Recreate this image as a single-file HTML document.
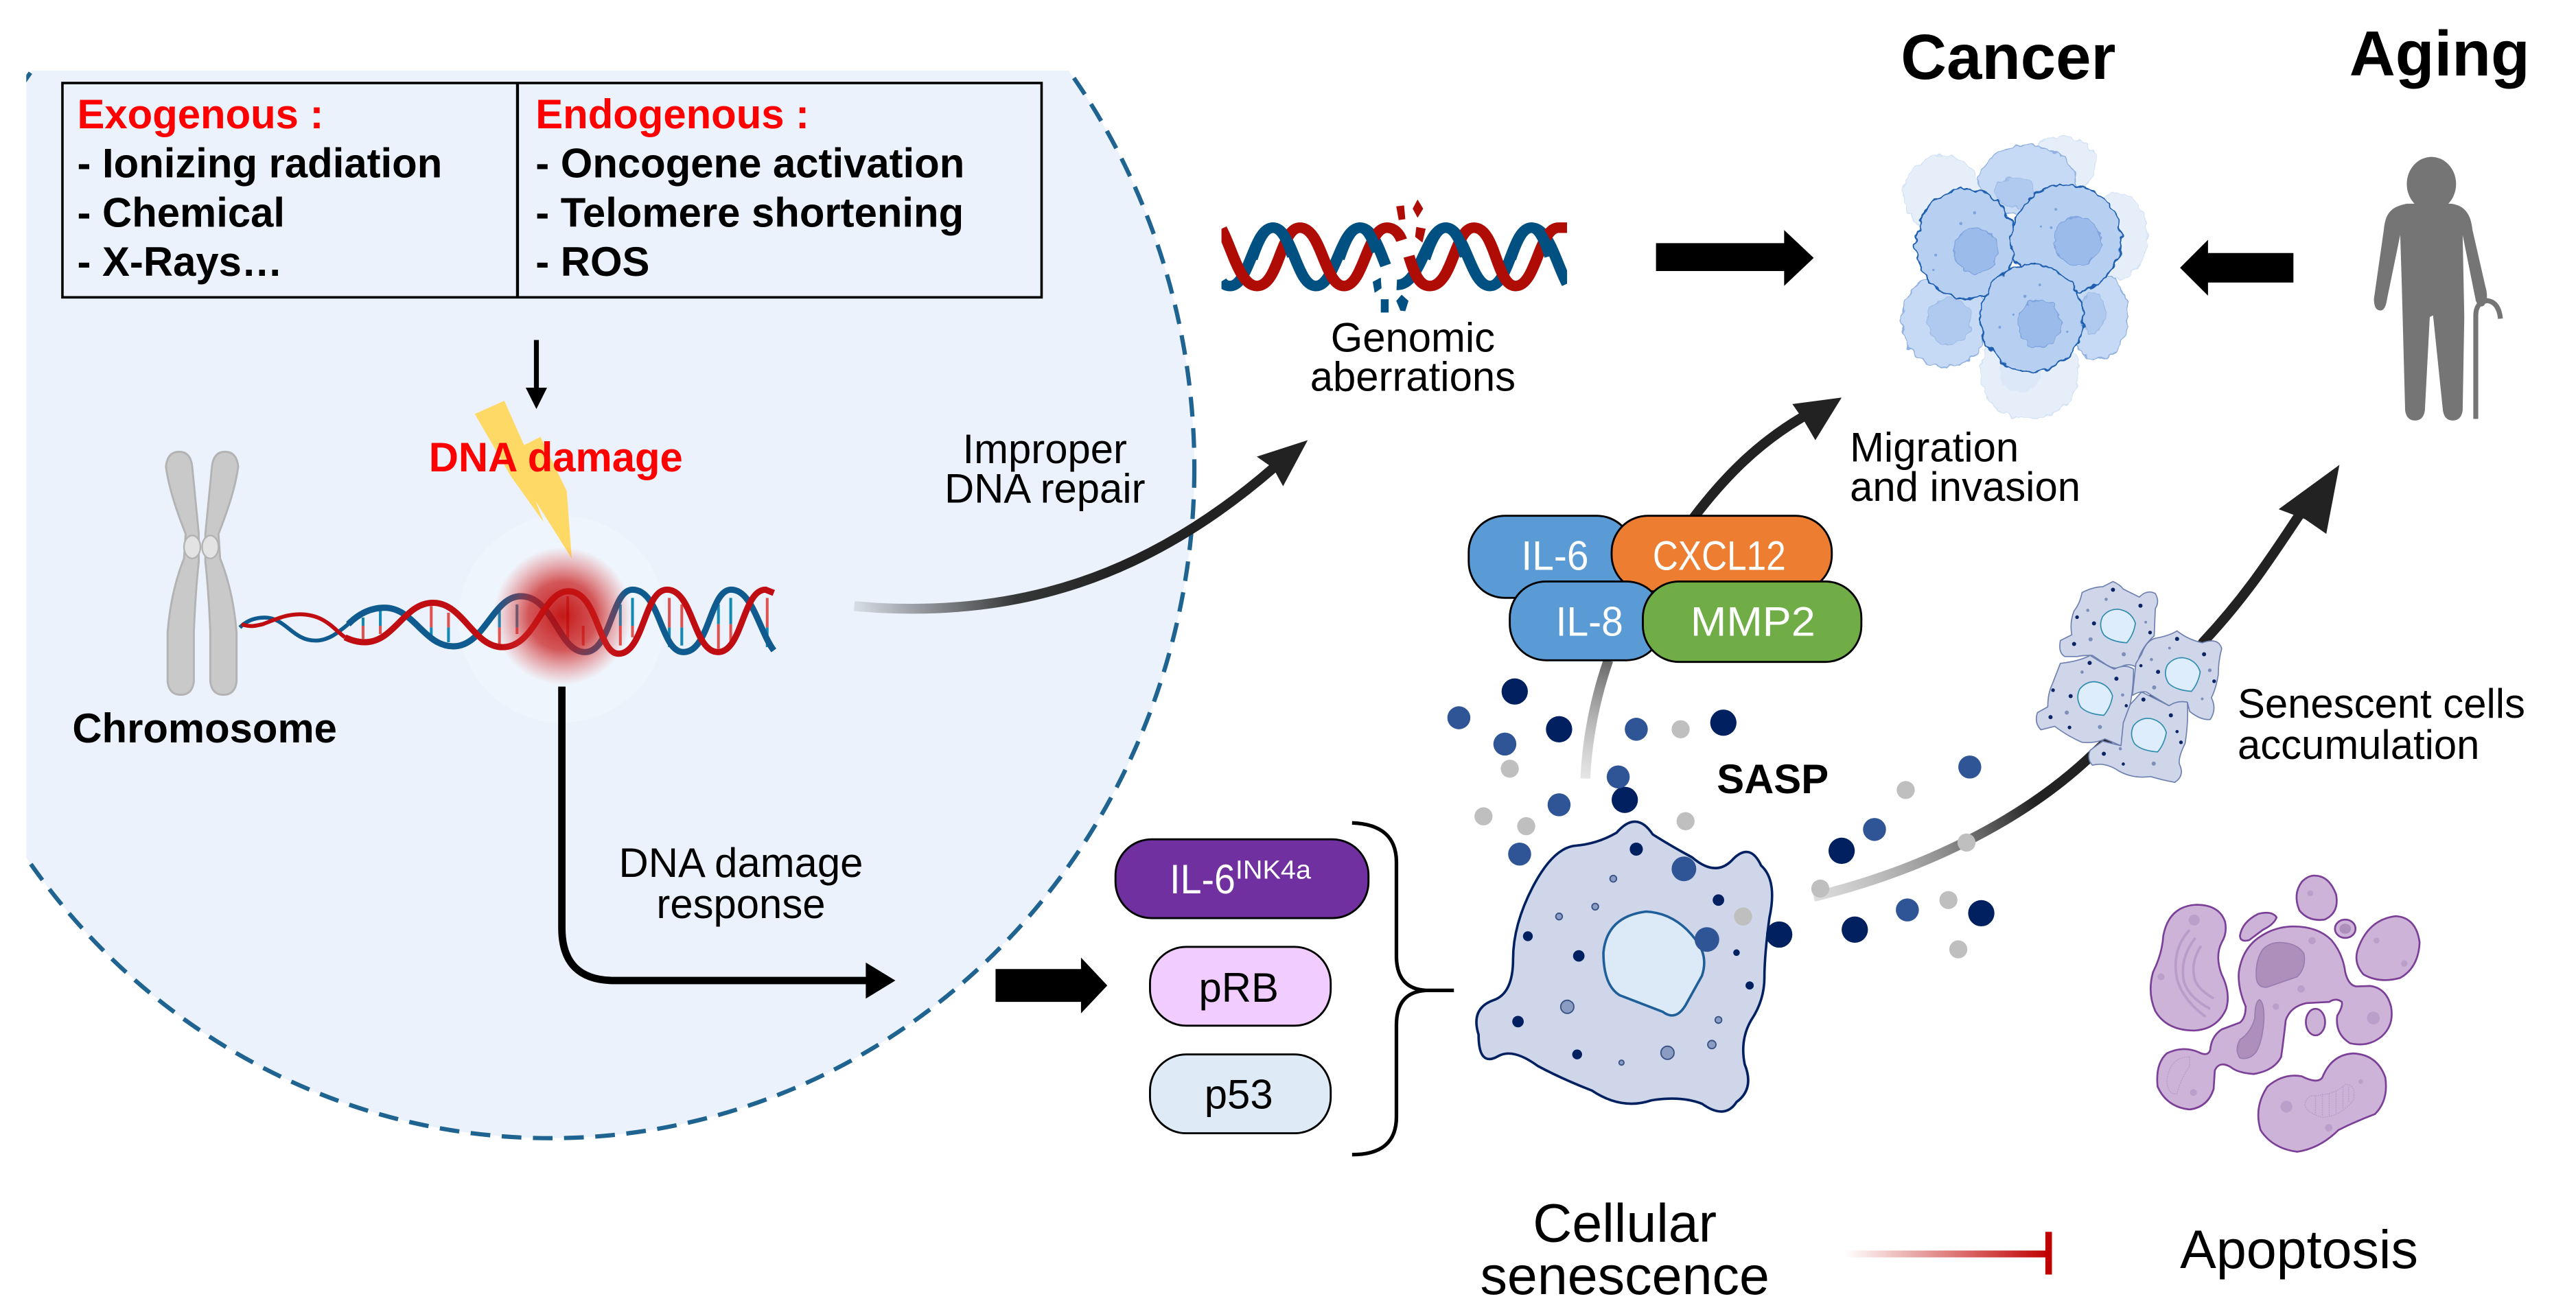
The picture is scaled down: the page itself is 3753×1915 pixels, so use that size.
<!DOCTYPE html>
<html><head><meta charset="utf-8"><style>
html,body{margin:0;padding:0;background:#fff;width:3753px;height:1915px;overflow:hidden}
svg{display:block;position:absolute;left:0;top:0}
text{font-family:"Liberation Sans",Arial,sans-serif;font-size:25px;fill:#000}
.b{font-weight:bold}.r{fill:#f00}.c{text-anchor:middle}
</style></head><body>
<svg width="3753" height="1915" viewBox="0 0 1568 800" xmlns="http://www.w3.org/2000/svg">
<defs>
<clipPath id="pc"><rect x="16" y="43" width="800" height="700"/></clipPath>
<clipPath id="gd"><rect x="55" y="0" width="1410" height="600"/></clipPath>
<linearGradient id="g1" gradientUnits="userSpaceOnUse" x1="520" y1="369" x2="680" y2="340"><stop offset="0" stop-color="#222" stop-opacity=".1"/><stop offset=".6" stop-color="#222" stop-opacity=".9"/><stop offset="1" stop-color="#222"/></linearGradient>
<linearGradient id="g2" gradientUnits="userSpaceOnUse" x1="1104" y1="546" x2="1240" y2="490"><stop offset="0" stop-color="#bbb" stop-opacity=".5"/><stop offset=".6" stop-color="#888"/><stop offset="1" stop-color="#222"/></linearGradient>
<linearGradient id="g3" gradientUnits="userSpaceOnUse" x1="965" y1="474" x2="979" y2="402"><stop offset="0" stop-color="#ccc" stop-opacity=".5"/><stop offset="1" stop-color="#666"/></linearGradient>
<linearGradient id="g4" gradientUnits="userSpaceOnUse" x1="1123" y1="0" x2="1247" y2="0"><stop offset="0" stop-color="#c00000" stop-opacity="0"/><stop offset="1" stop-color="#c00000"/></linearGradient>
<radialGradient id="gl"><stop offset="0" stop-color="#c00000" stop-opacity=".9"/><stop offset=".5" stop-color="#c81a1a" stop-opacity=".72"/><stop offset="1" stop-color="#e04040" stop-opacity="0"/></radialGradient>
<filter id="jag" x="-10%" y="-10%" width="120%" height="120%" color-interpolation-filters="sRGB"><feTurbulence type="fractalNoise" baseFrequency=".025" numOctaves="2" seed="7"/><feDisplacementMap in="SourceGraphic" scale="36" xChannelSelector="R" yChannelSelector="G"/></filter>
</defs>

<!-- panel -->
<ellipse cx="335" cy="285" rx="392" ry="408" fill="#ebf2fb" clip-path="url(#pc)"/>
<ellipse cx="335" cy="285" rx="392" ry="408" fill="none" stroke="#1f6391" stroke-width="2.600" stroke-dasharray="12 7" clip-path="url(#pc)"/>

<!-- table -->
<rect x="38" y="50.500" width="596" height="130.500" fill="none" stroke="#000" stroke-width="1.500"/>
<line x1="315" y1="50" x2="315" y2="181" stroke="#000" stroke-width="1.800"/>
<text class="b r" x="47" y="78">Exogenous :</text>
<text class="b" x="47" y="108">- Ionizing radiation</text>
<text class="b" x="47" y="138">- Chemical</text>
<text class="b" x="47" y="168">- X-Rays…</text>
<text class="b r" x="326" y="78">Endogenous :</text>
<text class="b" x="326" y="108">- Oncogene activation</text>
<text class="b" x="326" y="138">- Telomere shortening</text>
<text class="b" x="326" y="168">- ROS</text>

<!-- small arrow -->
<line x1="326.500" y1="207" x2="326.500" y2="236" stroke="#000" stroke-width="3"/>
<polygon points="320,236 333,236 326.500,249" fill="#000"/>

<!-- chromosome -->
<g fill="#c9c9c9" stroke="#b3b3b3" stroke-width="1.200">
<path d="M101 284Q102 275 109 275Q116 275 117 284L121 325L121 342Q119 360 118 385L118 415Q117 423 110 423Q103 423 102 415L102 385Q104 360 112 340L113 325Q103 300 101 284Z"/>
<path d="M145 284Q144 275 137 275Q130 275 129 284L125 325L125 342Q127 360 128 385L128 415Q129 423 136 423Q143 423 144 415L144 385Q142 360 134 340L133 325Q143 300 145 284Z"/>
</g>
<ellipse cx="117" cy="333" rx="5" ry="7" fill="#e3e3e3" stroke="#b3b3b3"/>
<ellipse cx="128" cy="333" rx="5" ry="7" fill="#e3e3e3" stroke="#b3b3b3"/>

<!-- halo -->
<circle cx="342" cy="377" r="63" fill="#fff" fill-opacity=".22"/>

<!-- bolt -->
<polygon points="289,252 307,244 319,271 329,266 345,299 348,340 326,305 331,318 311,290" fill="#ffd966"/>

<!-- helix rungs -->
<g stroke-width="1.700">
<g stroke="#1288b5"><path d="M221 376V381M231.500 372V381M262.500 382V387M273 382V391M304 371V382M314.700 368V382M377.600 368V381M385 364V381M415 382V393M407.400 382V394M437.300 368V380M444.800 364V380M467 382V394"/></g>
<g stroke="#e0524f"><path d="M221 381V389M231.500 381V386M262.500 369V382M273 373V382M304 382V392M314.700 382V386M345.600 363V392M355 381V393M377.600 381V393M385 381V388M407.400 364V382M415 368V382M437.300 380V395M444.800 380V392M467 364V382"/></g>
</g>
<!-- helix strands -->
<g fill="none" stroke="#0f5a8e">
<path stroke-width="2.400" d="M146 382C150 378 155 376 161 376C174 376 178 390 192 390C200 390 206 385 212 380"/>
<path stroke-width="3.800" d="M212 380C218 374 225 370 234 370C252 370 258 393.500 276 393.500C295 393.500 300 363 317 363C337 363 340 397 356 397C372 397 372 359 385 359C402 359 402 397 416 397C432 397 432 359 445 359C458 359 462 384 471 396"/>
</g>
<g fill="none" stroke="#c00d12">
<path stroke-width="2.400" d="M147 380C152 382 156 381 160 380C168 377 174 374 182.500 374C198 374 204 384 210 388"/>
<path stroke-width="3.800" d="M210 388C214 390 218 391 222 391C240 391 246 367 263.500 367C282 367 288 394 306 394C326 394 330 360 346 360C364 360 364 398 376.500 398C392 398 392 359 406 359C422 359 422 397 437 397C452 397 452 359 466 359L471 361"/>
</g>

<!-- glow -->
<ellipse cx="342.500" cy="375" rx="42" ry="42" fill="url(#gl)"/>

<text class="b r" x="261" y="287">DNA damage</text>
<text class="b" x="44" y="452">Chromosome</text>
<text class="c" x="636" y="282">Improper</text>
<text class="c" x="636" y="306">DNA repair</text>

<!-- arrow improper -->
<path d="M520 369C620 378 700 350 775 285" fill="none" stroke="url(#g1)" stroke-width="6"/>
<polygon points="796,268 765,278 775,285 781,296" fill="#222"/>

<!-- ddr arrow -->
<path d="M342 418V565Q342 597 374 597H530" fill="none" stroke="#000" stroke-width="4.500"/>
<polygon points="527,586 545,597 527,608" fill="#000"/>
<text class="c" x="451" y="534">DNA damage</text>
<text class="c" x="451" y="559">response</text>

<!-- block arrow -->
<polygon points="606,590 658,590 658,583 674,600 658,617 658,610 606,610" fill="#000"/>

<!-- pills -->
<rect x="679" y="511" width="154" height="48" rx="22" fill="#7030a0" stroke="#000" stroke-width="1.200"/>
<text x="712" y="544" style="fill:#fff;font-size:25px" textLength="40" lengthAdjust="spacingAndGlyphs">IL-6</text>
<text x="752" y="535" style="fill:#fff;font-size:16px" textLength="46" lengthAdjust="spacingAndGlyphs">INK4a</text>
<rect x="700" y="576.500" width="110" height="48" rx="22" fill="#f0ccff" stroke="#000" stroke-width="1.200"/>
<text class="c" x="754" y="610">pRB</text>
<rect x="700" y="642" width="110" height="48" rx="22" fill="#deeaf6" stroke="#000" stroke-width="1.200"/>
<text class="c" x="754" y="675">p53</text>

<!-- brace -->
<path d="M823 501Q850 502 850 525V582Q850 602 868 603H885M868 603Q850 604 850 624V680Q850 703 823 703" fill="none" stroke="#000" stroke-width="2.200"/>

<!-- genomic dna -->
<g transform="translate(735.300 112.800) scale(.1492 .1393)" fill="none" stroke-width="46">
<g clip-path="url(#gd)">
<g stroke="#005082">
<path d="M55 420C65 435 75 440 90 440C170 440 185 185 265 185C345 185 360 440 440 440C520 440 540 185 620 185C670 185 695 270 725 350"/>
<path d="M770 435C870 440 890 185 970 185C1050 185 1070 440 1150 440C1230 440 1240 185 1320 185C1390 185 1420 340 1465 430"/>
</g>
<g stroke="#b00c06">
<path d="M55 190C100 280 130 440 200 440C290 440 295 185 375 185C465 185 475 440 555 440C635 440 650 185 730 185C760 185 780 210 790 240"/>
<path d="M820 310C840 380 860 440 905 440C1000 440 1005 185 1085 185C1175 185 1175 440 1255 440C1340 440 1350 185 1430 185L1465 185"/>
</g>
<g stroke="#005082">
<path d="M180 320C205 240 230 185 265 185C300 185 325 240 345 310"/>
<path d="M535 320C560 240 585 185 620 185C650 185 670 230 690 290"/>
<path d="M885 320C910 240 935 185 970 185C1005 185 1030 240 1050 310"/>
<path d="M1235 320C1260 240 1285 185 1320 185C1350 185 1375 240 1395 310"/>
</g>
</g>
<g fill="#b00c06" stroke="none">
<polygon points="768,92 800,88 805,148 778,152"/>
<polygon points="855,62 878,102 855,142 835,102"/>
<polygon points="850,182 888,190 875,250 845,225"/>
</g>
<g fill="#005082" stroke="none">
<polygon points="672,422 705,403 708,450 680,470"/>
<rect x="705" y="498" width="32" height="58"/>
<polygon points="790,478 818,505 805,550 785,548 768,505"/>
</g>
</g>
<text class="c" x="860" y="214">Genomic</text>
<text class="c" x="860" y="238">aberrations</text>

<polygon points="1008,148 1086,148 1086,140 1104,157 1086,174 1086,165 1008,165" fill="#000"/>
<polygon points="1327,163 1344,146 1344,154 1396,154 1396,172 1344,172 1344,180" fill="#000"/>

<!-- cancer cells -->
<g transform="translate(1144.800 75.200) scale(.1393)">
<g filter="url(#jag)">
<g fill="#e6eefa" stroke="#d4e2f5" stroke-width="4">
<ellipse cx="270" cy="310" rx="170" ry="170"/>
<ellipse cx="790" cy="180" rx="150" ry="125"/>
<ellipse cx="1030" cy="490" rx="135" ry="190"/>
<ellipse cx="650" cy="1090" rx="215" ry="200"/>
</g>
<g fill="#c7daf5" stroke="#8fb0e0" stroke-width="5">
<ellipse cx="640" cy="250" rx="210" ry="155"/>
<ellipse cx="280" cy="865" rx="190" ry="200"/>
<ellipse cx="950" cy="840" rx="130" ry="190"/>
</g>
<g fill="#dce8f8"><ellipse cx="610" cy="1090" rx="90" ry="85"/></g>
<g fill="#b0c9ee" stroke="#9fbce6" stroke-width="4">
<ellipse cx="585" cy="300" rx="85" ry="65"/>
<ellipse cx="300" cy="865" rx="95" ry="100"/>
<ellipse cx="925" cy="830" rx="55" ry="90"/>
</g>
<g fill="#b7d0f2" stroke="#1f5faf" stroke-width="7">
<ellipse cx="370" cy="525" rx="215" ry="240"/>
<ellipse cx="810" cy="505" rx="240" ry="240"/>
<ellipse cx="660" cy="850" rx="225" ry="235"/>
</g>
<g fill="#9bbbea" stroke="#7fa3de" stroke-width="4">
<ellipse cx="415" cy="555" rx="95" ry="100"/>
<ellipse cx="860" cy="510" rx="103" ry="105"/>
<ellipse cx="695" cy="875" rx="95" ry="100"/>
</g>
</g>
<g fill="#7fa3de">
<circle cx="410" cy="390" r="7"/><circle cx="350" cy="437" r="7"/><circle cx="240" cy="575" r="6"/><circle cx="230" cy="640" r="5"/><circle cx="765" cy="375" r="6"/><circle cx="700" cy="450" r="5"/><circle cx="745" cy="455" r="6"/><circle cx="630" cy="755" r="7"/><circle cx="695" cy="705" r="6"/><circle cx="580" cy="835" r="5"/><circle cx="520" cy="890" r="6"/><circle cx="815" cy="910" r="5"/>
</g>
</g>

<!-- person -->
<g fill="#757575">
<ellipse cx="1480" cy="112" rx="15" ry="16.500"/>
<path d="M1465 124C1455 126 1452 130 1451 140L1445 182Q1445 189 1449 189Q1452 189 1453 182L1461 143L1462 175L1464 250Q1465 256 1470 256Q1475 256 1476 250L1479 193L1481 192L1487 250Q1488 256 1493 256Q1498 256 1499 250L1500 193L1499 143L1507 183Q1509 188 1512 186Q1515 182 1513 175L1505 140C1504 130 1500 125 1492 124Z"/>
</g>
<path d="M1507 255V192Q1507 184 1514 183Q1521 184 1522 194" fill="none" stroke="#757575" stroke-width="3"/>

<!-- stack -->
<path d="M1031 315C1050 290 1070 270 1097 254" fill="none" stroke="#222" stroke-width="6"/>
<polygon points="1121,242 1091,246 1098,256 1105,268" fill="#222"/>
<path d="M965 474C966 450 971 425 979 402" fill="none" stroke="url(#g3)" stroke-width="6"/>
<rect x="894" y="314" width="100" height="50" rx="22" fill="#5b9bd5" stroke="#000" stroke-width="1.200"/>
<rect x="981" y="314" width="134" height="46" rx="22" fill="#ed7d31" stroke="#000" stroke-width="1.200"/>
<rect x="919" y="354" width="93" height="48" rx="22" fill="#5b9bd5" stroke="#000" stroke-width="1.200"/>
<rect x="1000" y="354" width="133" height="49" rx="22" fill="#70ad47" stroke="#000" stroke-width="1.200"/>
<text x="926" y="347" style="fill:#fff" textLength="41" lengthAdjust="spacingAndGlyphs">IL-6</text>
<text x="1006" y="347" style="fill:#fff" textLength="81" lengthAdjust="spacingAndGlyphs">CXCL12</text>
<text x="947" y="387" style="fill:#fff" textLength="41" lengthAdjust="spacingAndGlyphs">IL-8</text>
<text x="1029" y="387" style="fill:#fff" textLength="76" lengthAdjust="spacingAndGlyphs">MMP2</text>

<text x="1126" y="281">Migration</text>
<text x="1126" y="305">and invasion</text>

<!-- senescent arrow -->
<path d="M1104 546C1170 530 1230 500 1271 462C1310 425 1330 410 1341 391C1370 360 1385 335 1402 310" fill="none" stroke="url(#g2)" stroke-width="6"/>
<polygon points="1424,283 1387,310 1403,316 1416,325" fill="#222"/>

<!-- senescent cells -->
<g transform="translate(1220 342.600) scale(.1393)">
<g fill="#cfd6ea" stroke="#6e80b0" stroke-width="5" stroke-linejoin="round">
<path d="M475 82Q505 95 520 115L590 150Q625 115 660 135Q680 170 660 200L655 320Q610 360 590 410L575 455Q540 435 500 460Q470 465 430 435L385 405Q340 405 320 410L265 410Q235 395 245 340L295 315Q285 260 305 210Q330 180 340 130Q390 105 430 105Z"/>
<path d="M755 298Q800 335 865 350Q935 325 950 375Q935 430 935 490Q925 550 905 590Q930 640 900 685Q860 690 810 650L800 610Q760 600 720 625Q660 590 620 565Q590 560 560 580L575 440L600 400Q620 340 660 330Q720 320 755 298Z"/>
<path d="M375 405Q430 440 480 465Q530 440 565 465Q565 540 550 620L520 700Q530 770 510 800L440 770Q400 790 340 785Q280 760 220 715L160 730Q130 700 145 655L190 630Q190 570 210 530L245 440Q330 430 375 405Z"/>
<path d="M600 565Q650 590 720 625Q760 600 800 610Q805 700 790 790Q760 850 765 880Q790 930 745 960Q690 950 640 935Q560 945 500 910Q440 870 385 885Q360 860 375 820L430 780L510 800L520 700L550 620Z"/>
</g>
<g fill="#deedfb" stroke="#2e8cae" stroke-width="5">
<path transform="translate(495 275)" d="M0 -72Q60 -65 78 -10Q70 40 40 75Q-30 70 -60 40Q-85 0 -65 -40Q-40 -72 0 -72Z"/>
<path transform="translate(778 487)" d="M0 -72Q60 -65 78 -10Q70 40 40 75Q-30 70 -60 40Q-85 0 -65 -40Q-40 -72 0 -72Z"/>
<path transform="translate(395 592)" d="M0 -72Q60 -65 78 -10Q70 40 40 75Q-30 70 -60 40Q-85 0 -65 -40Q-40 -72 0 -72Z"/>
<path transform="translate(630 752)" d="M0 -72Q60 -65 78 -10Q70 40 40 75Q-30 70 -60 40Q-85 0 -65 -40Q-40 -72 0 -72Z"/>
</g>
<g fill="#0c2364">
<circle cx="475" cy="118" r="9"/><circle cx="595" cy="188" r="9"/><circle cx="318" cy="238" r="8"/><circle cx="392" cy="265" r="9"/><circle cx="305" cy="355" r="9"/><circle cx="637" cy="305" r="8"/>
<circle cx="755" cy="333" r="9"/><circle cx="873" cy="400" r="9"/><circle cx="597" cy="450" r="7"/><circle cx="672" cy="477" r="9"/><circle cx="917" cy="518" r="8"/>
<circle cx="373" cy="438" r="9"/><circle cx="490" cy="507" r="9"/><circle cx="213" cy="557" r="8"/><circle cx="290" cy="583" r="9"/><circle cx="202" cy="675" r="9"/><circle cx="285" cy="720" r="8"/><circle cx="533" cy="625" r="7"/>
<circle cx="608" cy="598" r="9"/><circle cx="728" cy="667" r="9"/><circle cx="755" cy="738" r="7"/><circle cx="772" cy="785" r="8"/><circle cx="435" cy="835" r="9"/><circle cx="520" cy="880" r="7"/>
</g>
<g fill="#7d8fb8">
<circle cx="377" cy="335" r="9"/><circle cx="522" cy="400" r="9"/><circle cx="445" cy="160" r="7"/><circle cx="365" cy="208" r="7"/><circle cx="618" cy="260" r="6"/>
<circle cx="655" cy="545" r="9"/><circle cx="898" cy="470" r="8"/><circle cx="643" cy="423" r="7"/><circle cx="722" cy="373" r="6"/><circle cx="865" cy="595" r="6"/>
<circle cx="273" cy="655" r="9"/><circle cx="418" cy="718" r="9"/><circle cx="517" cy="578" r="7"/><circle cx="340" cy="478" r="7"/>
<circle cx="653" cy="878" r="9"/><circle cx="507" cy="813" r="7"/>
</g>
</g>
<text x="1362" y="437">Senescent cells</text>
<text x="1362" y="462">accumulation</text>

<!-- main cell -->
<path d="M984 507Q996 493 1006 508Q1017 515 1030 522Q1044 534 1054 524Q1065 512 1072 527Q1082 536 1077 559Q1074 582 1074 595Q1074 609 1066 621Q1059 633 1062 648Q1068 663 1057 671Q1050 682 1036 672Q1023 667 1005 670Q987 676 969 664Q951 657 936 649Q921 638 912 643Q900 650 900 630Q895 614 909 609Q921 605 921 584Q921 563 933 540Q945 517 958 515Q972 514 984 507Z" fill="#cfd6ea" stroke="#002060" stroke-width="1.500"/>
<path d="M1002 555Q1020 556 1032 572Q1040 582 1036 594L1026 612Q1020 622 1012 616L986 606Q976 600 976 580Q978 558 1002 555Z" fill="#dceaf8" stroke="#1f5f99" stroke-width="1.500"/>
<g fill="#002060">
<circle cx="996" cy="517" r="4"/><circle cx="1046" cy="548" r="3.500"/><circle cx="930" cy="570" r="3"/><circle cx="961" cy="582" r="3.500"/><circle cx="924" cy="622" r="3.500"/><circle cx="960" cy="642" r="3"/><circle cx="1065" cy="600" r="2.500"/><circle cx="1057" cy="580" r="2"/>
</g>
<g fill="#8a9cc2" stroke="#3b5488" stroke-width=".8">
<circle cx="982" cy="535" r="2"/><circle cx="949" cy="558" r="2"/><circle cx="971" cy="552" r="2"/><circle cx="954" cy="613" r="4"/><circle cx="1046" cy="621" r="2"/><circle cx="1042" cy="636" r="2.500"/><circle cx="1015" cy="641" r="4"/><circle cx="987" cy="647" r="1.500"/>
</g>
<!-- particles -->
<g fill="#002060">
<circle cx="922" cy="421" r="8"/><circle cx="949" cy="444" r="8"/><circle cx="1049" cy="440" r="8"/><circle cx="989" cy="487" r="8"/><circle cx="1121" cy="518" r="8"/><circle cx="1083" cy="569" r="8"/><circle cx="1129" cy="566" r="8"/><circle cx="1206" cy="556" r="8"/>
</g>
<g fill="#2f5597">
<circle cx="888" cy="437" r="7"/><circle cx="916" cy="453" r="7"/><circle cx="996" cy="444" r="7"/><circle cx="985" cy="473" r="7"/><circle cx="949" cy="490" r="7"/><circle cx="925" cy="520" r="7"/><circle cx="1141" cy="505" r="7"/><circle cx="1199" cy="467" r="7"/><circle cx="1161" cy="554" r="7"/><circle cx="1025" cy="529" r="7.500"/><circle cx="1039" cy="572" r="7.500"/>
</g>
<g fill="#bfbfbf">
<circle cx="919" cy="468" r="5.500"/><circle cx="1023" cy="444" r="5.500"/><circle cx="903" cy="497" r="5.500"/><circle cx="929" cy="503" r="5.500"/><circle cx="1026" cy="500" r="5.500"/><circle cx="1160" cy="481" r="5.500"/><circle cx="1186" cy="548" r="5.500"/><circle cx="1192" cy="578" r="5.500"/><circle cx="1197" cy="513" r="5.500"/><circle cx="1108" cy="541" r="5.500"/><circle cx="1061" cy="558" r="5.500"/>
</g>
<text class="b" x="1045" y="483">SASP</text>

<!-- apoptosis -->
<g transform="translate(1295.200 518.100) scale(.1393)">
<g fill="#cdb3d7" stroke="#7b3f98" stroke-width="8">
<path d="M300 235Q400 235 425 310Q435 360 410 400Q380 460 410 540Q450 620 430 690Q390 780 290 785Q170 785 120 700Q85 620 110 530Q150 450 155 370Q180 240 300 235Z"/>
<path d="M820 108Q880 110 910 190Q925 270 860 300Q790 310 750 260Q720 190 760 135Q790 105 820 108Z"/>
<path d="M490 370Q500 310 570 275Q630 260 650 290Q640 320 590 345L530 390Q490 400 490 370Z"/>
<ellipse cx="950" cy="340" rx="45" ry="40"/>
<path d="M1170 285Q1260 290 1275 400Q1270 510 1190 555Q1100 580 1030 540Q985 490 1005 430Q1050 300 1170 285Z"/>
<ellipse cx="820" cy="748" rx="42" ry="58"/>
<path d="M725 330Q830 330 890 390Q940 450 950 530Q965 590 1000 592L1060 590Q1130 600 1150 680Q1165 760 1110 810Q1050 860 970 840Q905 800 915 720Q940 680 935 660Q910 640 880 660L780 665Q710 680 690 740Q680 830 670 900Q640 960 550 975Q480 970 450 945Q400 915 380 960L375 1040Q350 1120 270 1130Q170 1120 130 1030Q120 930 170 885Q240 850 310 880Q350 900 360 870Q365 810 410 780L490 750Q515 730 515 680Q480 600 485 530Q500 430 570 380Q640 330 725 330Z"/>
<path d="M985 885Q1090 890 1125 990Q1140 1090 1080 1150Q1000 1180 920 1220Q840 1300 740 1315Q630 1300 580 1220Q550 1120 610 1030Q680 970 760 985Q830 1020 850 990Q890 890 985 885Z"/>
</g>
<g fill="#ae8fbb" stroke="#9a7bb0" stroke-width="5">
<path d="M660 400Q740 400 770 450Q780 510 740 550L610 595Q570 600 562 560Q555 480 590 430Q620 400 660 400Z"/>
<path d="M575 650Q595 660 595 730Q590 830 560 880Q530 915 490 905Q465 870 490 825Q540 790 555 730Q555 660 575 650Z"/>
<ellipse cx="950" cy="340" rx="25" ry="22" stroke="none"/>
</g>
<g fill="none" stroke="#b89cc9" stroke-width="11">
<path d="M270 345Q190 430 215 560Q240 650 340 725"/>
<path d="M295 380Q225 470 245 570Q265 640 360 690"/>
<path d="M320 415Q270 490 295 570Q315 610 375 645"/>
</g>
<g fill="none" stroke="#b89cc9" stroke-width="4" stroke-dasharray="6 4">
<path d="M270 900Q180 900 170 1010Q180 1070 215 1060Q230 1000 270 940Z"/>
<path d="M800 1070Q900 1070 950 1020Q1000 1020 985 1090Q930 1160 850 1165Q770 1140 775 1105Q780 1080 800 1070Z"/>
<path d="M820 1070V1150M850 1060V1160M880 1060V1160M910 1050V1150M940 1030V1130M965 1030V1100"/>
</g>
<g fill="#bb9fcb">
<circle cx="290" cy="302" r="24"/><circle cx="145" cy="550" r="15"/><circle cx="797" cy="185" r="13"/><circle cx="805" cy="392" r="16"/><circle cx="757" cy="603" r="16"/><circle cx="647" cy="680" r="14"/><circle cx="1087" cy="392" r="13"/><circle cx="1208" cy="492" r="14"/><circle cx="1073" cy="730" r="28"/><circle cx="287" cy="1056" r="15"/><circle cx="693" cy="1118" r="26"/><circle cx="878" cy="1210" r="16"/><circle cx="1018" cy="1008" r="10"/>
</g>
</g>

<!-- labels bottom -->
<text class="c" x="989" y="756" style="font-size:33px">Cellular</text>
<text class="c" x="989" y="788" style="font-size:33px">senescence</text>
<text x="1327" y="772" style="font-size:33px">Apoptosis</text>
<line x1="1123" y1="763.500" x2="1247" y2="763.500" stroke="url(#g4)" stroke-width="4.200"/>
<line x1="1247" y1="750" x2="1247" y2="776" stroke="#c00000" stroke-width="4"/>

<text class="b" x="1157" y="48" style="font-size:38.600px">Cancer</text>
<text class="b" x="1430" y="46" style="font-size:38.800px">Aging</text>
</svg>
</body></html>
